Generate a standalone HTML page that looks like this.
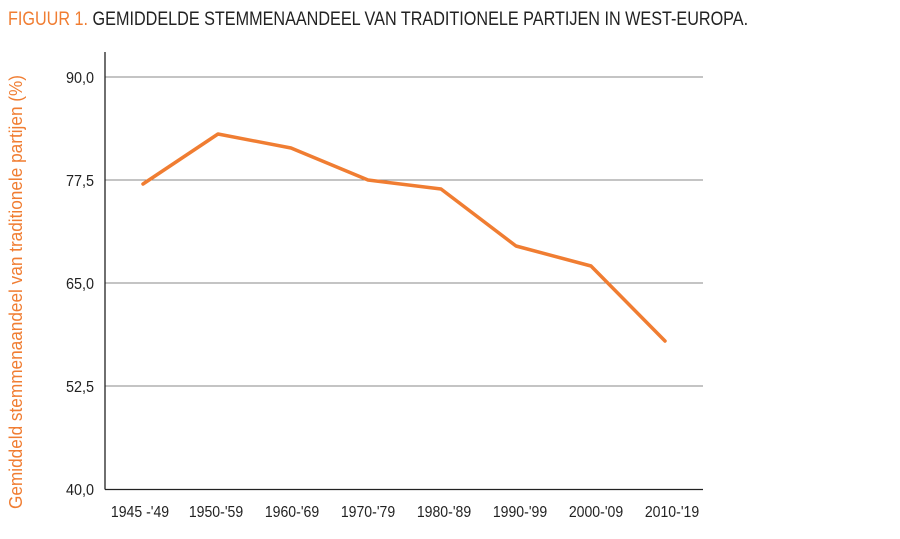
<!DOCTYPE html>
<html><head><meta charset="utf-8"><style>
body{margin:0;background:#fff;width:900px;height:534px;overflow:hidden;font-family:"Liberation Sans",sans-serif}
svg text{font-family:"Liberation Sans",sans-serif}
</style></head><body>
<svg width="900" height="534" xmlns="http://www.w3.org/2000/svg">
<g transform="translate(8,25) scale(0.853,1)">
<text x="0" y="0" font-size="19"><tspan fill="#f07d32">FIGUUR 1.</tspan><tspan fill="#222"> GEMIDDELDE STEMMENAANDEEL VAN TRADITIONELE PARTIJEN IN WEST-EUROPA.</tspan></text>
</g>
<g stroke="#888" stroke-width="1">
<line x1="105" y1="77" x2="703" y2="77"/>
<line x1="105" y1="180" x2="703" y2="180"/>
<line x1="105" y1="283" x2="703" y2="283"/>
<line x1="105" y1="386" x2="703" y2="386"/>
</g>
<line x1="105" y1="52" x2="105" y2="489.5" stroke="#222" stroke-width="1.3"/>
<line x1="105" y1="489.5" x2="703" y2="489.5" stroke="#222" stroke-width="1.3"/>
<g font-size="16" fill="#222" text-anchor="end">
<text transform="translate(94,83) scale(0.9,1)">90,0</text>
<text transform="translate(94,186) scale(0.9,1)">77,5</text>
<text transform="translate(94,289) scale(0.9,1)">65,0</text>
<text transform="translate(94,392) scale(0.9,1)">52,5</text>
<text transform="translate(94,495) scale(0.9,1)">40,0</text>
</g>
<g font-size="16" fill="#222" text-anchor="middle">
<text transform="translate(140,517) scale(0.88,1)">1945 -'49</text>
<text transform="translate(216,517) scale(0.88,1)">1950-'59</text>
<text transform="translate(292,517) scale(0.88,1)">1960-'69</text>
<text transform="translate(368,517) scale(0.88,1)">1970-'79</text>
<text transform="translate(444,517) scale(0.88,1)">1980-'89</text>
<text transform="translate(520,517) scale(0.88,1)">1990-'99</text>
<text transform="translate(596,517) scale(0.88,1)">2000-'09</text>
<text transform="translate(672,517) scale(0.88,1)">2010-'19</text>
</g>
<text transform="translate(22,292) rotate(-90) scale(0.93,1)" font-size="18.5" fill="#f07d32" text-anchor="middle">Gemiddeld stemmenaandeel van traditionele partijen (%)</text>
<polyline fill="none" stroke="#f07d32" stroke-width="3.5" stroke-linejoin="round" stroke-linecap="round"
points="143,184 218,134 291,148 368,180 441,189 516,246 591,266 665,341"/>
</svg>
</body></html>
